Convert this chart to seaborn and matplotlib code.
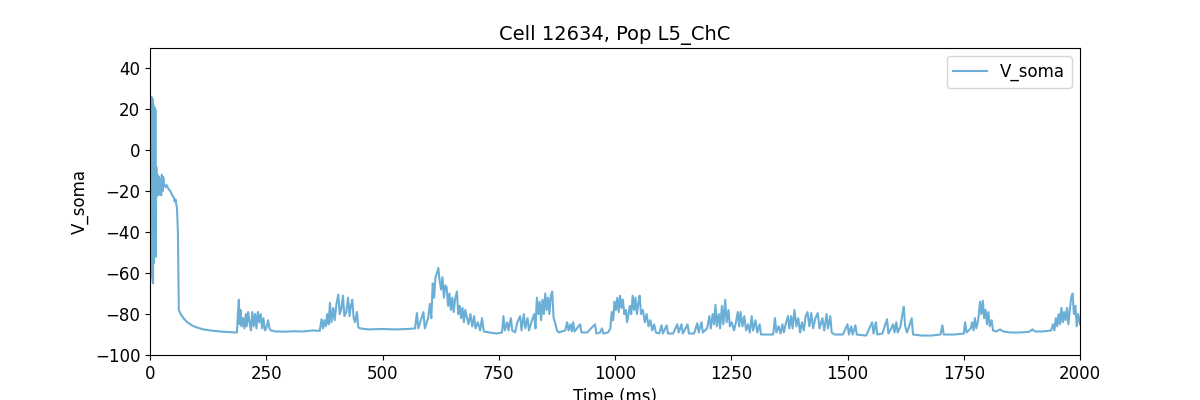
import numpy as np
import pandas as pd
import matplotlib
matplotlib.use("Agg")
import matplotlib.pyplot as plt
import seaborn as sns

t_early = [0, 2, 3.5, 4.5, 5.5, 6.5, 7.5, 8.5, 9.5, 10.5, 11.5, 12.5, 13.5, 15, 16.5,
           18, 19.5, 21, 22.5, 24, 25.5, 27, 28.5, 30, 33, 36, 40, 44, 48, 51, 53, 55,
           57, 58, 60, 62, 66, 72, 80, 90, 100, 115, 130, 150, 170, 185]
v_early = [-65, -62, 26, -60, 25, -65, 22, -55, 21, -50, 20, -52, -8, -20, -12,
           -22, -13, -21, -14, -22, -12, -20, -13, -16, -18, -17, -19, -20, -22, -23, -25, -24,
           -27, -28, -40, -78, -80, -82, -84, -85.5, -86.5, -87.5, -88, -88.5, -88.8, -89]

t_mid1 = [187, 189, 191, 193, 195, 197, 200, 203, 206, 208, 211, 214, 217, 220, 223, 226,
          229, 232, 235, 238, 241, 244, 247, 250, 254, 257, 260, 270, 290, 310, 330, 350, 365,
          369, 372, 375, 378, 381, 384, 387, 390, 394, 397, 401, 405, 408, 411, 415, 418,
          422, 426, 429, 432, 435, 438, 441, 445, 448, 452, 470, 500, 530, 560, 570]
v_mid1 = [-89, -80, -73, -85, -78, -86, -82, -87, -80, -86, -79, -84, -88, -79, -86, -80,
          -87, -79, -84, -80, -87, -82, -88, -87, -83, -87, -88, -88.5, -88.6, -88.4, -88.5, -88, -88.2,
          -82.5, -87, -83, -86, -80, -85, -74.5, -84, -77, -83, -75, -70.5, -80, -78, -71, -81,
          -79, -72, -81, -76, -73, -82, -84, -79, -86.5, -87, -87.5, -87.3, -87.5, -87.2, -87]

t_mid2 = [574, 577, 588, 591, 598, 602, 605, 608, 611, 614, 617, 620, 623, 626, 629, 632,
          635, 638, 641, 644, 647, 650, 653, 656, 660, 663, 666, 669, 672, 675, 678, 681,
          685, 689, 693, 697, 700, 705, 710, 714, 718, 730, 745, 757, 760, 763, 768, 771,
          776, 779, 785, 790, 796, 799, 804, 807, 812, 815, 820, 826, 829, 832, 835, 838,
          841, 844, 847, 850, 853, 856, 859, 862, 865, 868, 871, 875, 880]
v_mid2 = [-79.5, -87, -79, -87, -82, -75, -82, -65, -72, -62, -60, -57.5, -64, -68, -62, -72,
          -66, -67, -76, -70, -78, -72, -79, -73, -69, -80, -76, -82, -77, -84, -78, -81,
          -85, -80, -86, -81, -87, -84, -88, -82, -88.5, -89, -89.5, -89, -81, -88, -84, -88,
          -82, -88, -89, -84, -81, -88, -80, -87, -82, -88, -84, -80, -87, -72, -80, -74,
          -83, -73, -80, -70, -78, -72, -80, -71, -69, -82, -84, -88, -89]

t_mid3 = [885, 893, 897, 900, 904, 907, 910, 913, 925, 928, 940, 957, 960, 968, 972, 975,
          985, 990, 993, 996, 999, 1002, 1005, 1008, 1011, 1014, 1017, 1020, 1023, 1026,
          1029, 1032, 1035, 1038, 1041, 1044, 1047, 1050, 1053, 1056, 1060, 1064, 1068,
          1072, 1076, 1080, 1084, 1088]
v_mid3 = [-88.5, -88, -84, -88, -85, -88.5, -84, -88.5, -85, -89, -89, -85, -89.5, -89, -87, -89.5,
          -89, -87, -79, -83, -74, -78, -72, -79, -71, -77, -73, -80, -78, -84,
          -80, -76, -80, -71, -78, -72, -80, -75, -71, -80, -78, -84, -80,
          -86, -83, -88, -85, -89]

t_late1 = [1095, 1100, 1103, 1111, 1114, 1125, 1134, 1137, 1143, 1146, 1156, 1159, 1170,
           1177, 1180, 1186, 1189, 1198, 1203, 1206, 1210, 1213, 1216, 1219, 1223, 1226,
           1230, 1233, 1237, 1240, 1244, 1247, 1251, 1256, 1260, 1264, 1267, 1270, 1274,
           1278, 1282, 1286, 1290, 1294, 1297, 1302, 1306, 1311, 1314, 1325, 1340, 1344,
           1347, 1352, 1356, 1360, 1363, 1368, 1372, 1375, 1379, 1382, 1386, 1390, 1394, 1398]
v_late1 = [-89.5, -85.5, -89.5, -85.5, -89.5, -89.5, -85, -89, -85, -89.5, -85, -89.5, -89.5,
           -84.5, -89, -84, -89, -87, -81, -87, -80, -85, -75.5, -86, -80, -87,
           -76, -85, -73, -84, -78, -86, -84, -88, -84, -79, -86, -79, -86,
           -81, -88, -85, -89, -81, -88, -83, -89, -85, -90, -90, -90, -82,
           -89, -86, -89.5, -85, -89, -84, -81, -87, -81, -87, -78, -86, -82, -89]

t_late2 = [1402, 1406, 1410, 1414, 1418, 1422, 1426, 1431, 1436, 1440, 1446, 1450, 1455,
           1458, 1463, 1466, 1472, 1490, 1500, 1503, 1508, 1511, 1517, 1520, 1540, 1553,
           1556, 1561, 1564, 1575, 1580, 1585, 1588, 1594, 1598, 1601, 1605, 1608, 1614,
           1618, 1621, 1624, 1628, 1634, 1638, 1641, 1660, 1680, 1700, 1704, 1707, 1730, 1750]
v_late2 = [-84, -88, -81, -79, -86, -79.5, -87, -82, -79.5, -87, -82, -88, -80,
           -87, -81, -89, -90, -90, -85, -90, -86, -90, -85.5, -90, -90.5, -84,
           -89.5, -84, -90, -89.5, -86, -82.5, -89.5, -87, -85, -89, -84, -89, -86,
           -80, -76.5, -86, -89, -85, -82, -90, -90.5, -90.5, -90, -85.5, -90, -90, -89.5]

t_late3 = [1753, 1756, 1765, 1768, 1771, 1774, 1777, 1781, 1785, 1788, 1791, 1794, 1797,
           1800, 1803, 1806, 1810, 1813, 1820, 1828, 1835, 1850, 1870, 1890, 1898, 1903,
           1920, 1938, 1942, 1945, 1948, 1951, 1954, 1957, 1960, 1963, 1966, 1969, 1972,
           1975, 1978, 1981, 1984, 1987, 1990, 1993, 1996, 2000]
v_late3 = [-84, -89, -87, -84, -88, -82, -87, -83, -74, -80, -73.5, -82, -78,
           -85, -79, -86, -83, -88, -88.5, -87.5, -88.5, -89, -89, -88.7, -87.5, -88.5,
           -88.5, -88, -85, -88, -82, -86, -80, -85, -77, -84, -79, -83, -77,
           -85, -78, -72, -70, -80, -76, -86, -80, -85]

time_ms = t_early + t_mid1 + t_mid2 + t_mid3 + t_late1 + t_late2 + t_late3
v_soma = v_early + v_mid1 + v_mid2 + v_mid3 + v_late1 + v_late2 + v_late3

df = pd.DataFrame({"Time (ms)": time_ms, "V_soma": v_soma})

# ---- grafico ----
fig, ax = plt.subplots(figsize=(12, 4), dpi=100)
sns.lineplot(data=df, x="Time (ms)", y="V_soma", sort=False, estimator=None,
             color="#6baed6", linewidth=1.5, label="V_soma", ax=ax)

ax.set_xlim(0, 2000)
ax.set_ylim(-100, 50)
ax.set_xticks([0, 250, 500, 750, 1000, 1250, 1500, 1750, 2000])
ax.set_yticks([-100, -80, -60, -40, -20, 0, 20, 40])
ax.tick_params(labelsize=12)
ax.set_xlabel("Time (ms)", fontsize=12)
ax.set_ylabel("V_soma", fontsize=12)
ax.set_title("Cell 12634, Pop L5_ChC", fontsize=14)
ax.legend(loc="upper right", fontsize=12)

fig.subplots_adjust(left=0.125, right=0.9, bottom=0.1125, top=0.88)
fig.savefig("out.png", dpi=100)
